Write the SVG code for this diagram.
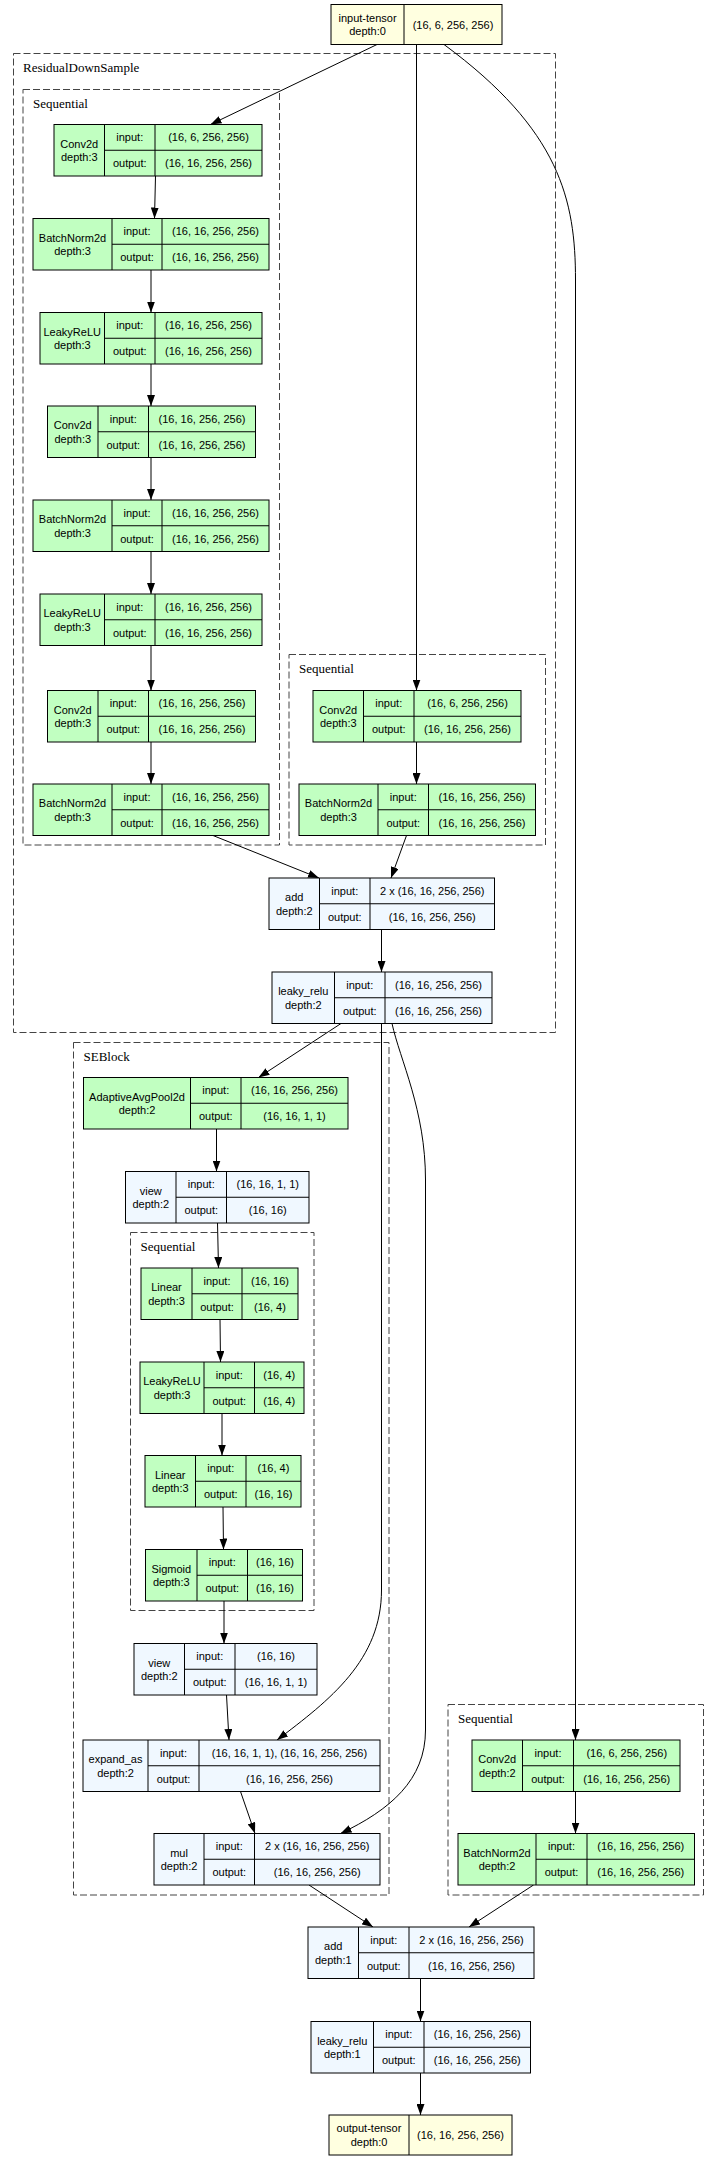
<svg xmlns="http://www.w3.org/2000/svg" width="717" height="2160" viewBox="0 0 717 2160">
<style>
.nd rect{stroke:#000;stroke-width:1}
.nd path{stroke:#000;stroke-width:1;fill:none}
.g rect{fill:#c1ffc1}
.b rect{fill:#f0f8ff}
.y rect{fill:#ffffe0}
.nd text{font-family:"Liberation Sans",Arial,sans-serif;font-size:11px;text-anchor:middle;fill:#000}
.cl rect{fill:none;stroke:#444;stroke-width:1;stroke-dasharray:7,3}
.cl text{font-family:"Liberation Serif","Times New Roman",serif;font-size:13px;fill:#000}
.ed path{fill:none;stroke:#000;stroke-width:1}
</style>
<defs>
<marker id="ah" markerWidth="11" markerHeight="8" refX="11" refY="4" orient="auto" markerUnits="userSpaceOnUse"><path d="M0,0 L11,4 L0,8 z" fill="#000"/></marker>
</defs>
<rect width="717" height="2160" fill="#fff"/>

<g id="clusters">
<g class="cl" id="c_rds"><rect x="13.5" y="53.5" width="542" height="979"/><text x="23" y="72">ResidualDownSample</text></g>
<g class="cl" id="c_seqL"><rect x="23" y="89.5" width="256.5" height="755.5"/><text x="33" y="108">Sequential</text></g>
<g class="cl" id="c_seqR"><rect x="289" y="654.5" width="256.5" height="190.5"/><text x="299" y="673">Sequential</text></g>
<g class="cl" id="c_se"><rect x="73.5" y="1042.5" width="315.5" height="852.5"/><text x="83.5" y="1061">SEBlock</text></g>
<g class="cl" id="c_seqSE"><rect x="130.5" y="1232.5" width="183.5" height="378"/><text x="140.5" y="1251">Sequential</text></g>
<g class="cl" id="c_seqBR"><rect x="448" y="1704.5" width="255.5" height="190.5"/><text x="458" y="1723">Sequential</text></g>
</g>

<g class="ed" id="edges">
<path d="M377,44.5 L210.5,124.5" marker-end="url(#ah)"/>
<path d="M416.5,44.5 V690.5" marker-end="url(#ah)"/>
<path d="M444,44.5 C560,130 575.5,200 575.5,280 V1740" marker-end="url(#ah)"/>
<path d="M155.5,176 L154.5,218.5" marker-end="url(#ah)"/>
<path d="M151,270 V312.5" marker-end="url(#ah)"/>
<path d="M151,364 V406" marker-end="url(#ah)"/>
<path d="M151,457.5 V500" marker-end="url(#ah)"/>
<path d="M151,551.5 V594" marker-end="url(#ah)"/>
<path d="M151,645.5 V690.5" marker-end="url(#ah)"/>
<path d="M151,742 V784" marker-end="url(#ah)"/>
<path d="M416.5,742 V784" marker-end="url(#ah)"/>
<path d="M213,835.5 L319,878" marker-end="url(#ah)"/>
<path d="M406.5,835.5 L391,878" marker-end="url(#ah)"/>
<path d="M381.5,929.5 V972" marker-end="url(#ah)"/>
<path d="M341,1023.5 L258.5,1077.5" marker-end="url(#ah)"/>
<path d="M381.5,1023.5 V1590 C381.5,1660 330,1700 277,1740" marker-end="url(#ah)"/>
<path d="M392,1023.5 C400,1060 425.5,1110 425.5,1180 V1730 C425.5,1780 390,1810 340.5,1833.5" marker-end="url(#ah)"/>
<path d="M216.5,1129 V1171.5" marker-end="url(#ah)"/>
<path d="M217.5,1223 L218.5,1268" marker-end="url(#ah)"/>
<path d="M220,1319.5 L220.5,1362" marker-end="url(#ah)"/>
<path d="M222,1413.5 V1455.5" marker-end="url(#ah)"/>
<path d="M223,1507 L223.5,1549.5" marker-end="url(#ah)"/>
<path d="M224,1601 V1643.5" marker-end="url(#ah)"/>
<path d="M226.5,1695 L229,1740" marker-end="url(#ah)"/>
<path d="M240.5,1791.5 L255,1833.5" marker-end="url(#ah)"/>
<path d="M575.5,1791.5 V1833.5" marker-end="url(#ah)"/>
<path d="M309,1885 L373,1927" marker-end="url(#ah)"/>
<path d="M533.5,1885 L469,1927" marker-end="url(#ah)"/>
<path d="M420.5,1978.5 V2021.5" marker-end="url(#ah)"/>
<path d="M420.5,2073 V2115" marker-end="url(#ah)"/>
</g>

<g id="n_input" class="nd y"><rect x="331" y="4.5" width="171" height="40"/><path d="M404,4.5 V44.5"/><text x="367.5" y="21.5">input-tensor</text><text x="367.5" y="35">depth:0</text><text x="453" y="28.5">(16, 6, 256, 256)</text></g>

<g id="n_conv1" class="nd g"><rect x="54" y="124.5" width="208" height="51.5"/><path d="M104.5,124.5 V176 M155,124.5 V176 M104.5,150.25 H262"/><text x="79.25" y="147.8">Conv2d</text><text x="79.25" y="161.3">depth:3</text><text x="129.75" y="141.4">input:</text><text x="129.75" y="167.1">output:</text><text x="208.5" y="141.4">(16, 6, 256, 256)</text><text x="208.5" y="167.1">(16, 16, 256, 256)</text></g>

<g id="n_bn1" class="nd g"><rect x="33" y="218.5" width="236" height="51.5"/><path d="M112,218.5 V270 M162,218.5 V270 M112,244.25 H269"/><text x="72.5" y="241.8">BatchNorm2d</text><text x="72.5" y="255.3">depth:3</text><text x="137" y="235.4">input:</text><text x="137" y="261.1">output:</text><text x="215.5" y="235.4">(16, 16, 256, 256)</text><text x="215.5" y="261.1">(16, 16, 256, 256)</text></g>

<g id="n_lrelu1" class="nd g"><rect x="40" y="312.5" width="222" height="51.5"/><path d="M104.5,312.5 V364 M155,312.5 V364 M104.5,338.25 H262"/><text x="72.25" y="335.8">LeakyReLU</text><text x="72.25" y="349.3">depth:3</text><text x="129.75" y="329.4">input:</text><text x="129.75" y="355.1">output:</text><text x="208.5" y="329.4">(16, 16, 256, 256)</text><text x="208.5" y="355.1">(16, 16, 256, 256)</text></g>

<g id="n_conv2" class="nd g"><rect x="47.5" y="406" width="208" height="51.5"/><path d="M98,406 V457.5 M148.5,406 V457.5 M98,431.75 H255.5"/><text x="72.75" y="429.3">Conv2d</text><text x="72.75" y="442.8">depth:3</text><text x="123.25" y="422.9">input:</text><text x="123.25" y="448.6">output:</text><text x="202" y="422.9">(16, 16, 256, 256)</text><text x="202" y="448.6">(16, 16, 256, 256)</text></g>

<g id="n_bn2" class="nd g"><rect x="33" y="500" width="236" height="51.5"/><path d="M112,500 V551.5 M162,500 V551.5 M112,525.75 H269"/><text x="72.5" y="523.3">BatchNorm2d</text><text x="72.5" y="536.8">depth:3</text><text x="137" y="516.9">input:</text><text x="137" y="542.6">output:</text><text x="215.5" y="516.9">(16, 16, 256, 256)</text><text x="215.5" y="542.6">(16, 16, 256, 256)</text></g>

<g id="n_lrelu2" class="nd g"><rect x="40" y="594" width="222" height="51.5"/><path d="M104.5,594 V645.5 M155,594 V645.5 M104.5,619.75 H262"/><text x="72.25" y="617.3">LeakyReLU</text><text x="72.25" y="630.8">depth:3</text><text x="129.75" y="610.9">input:</text><text x="129.75" y="636.6">output:</text><text x="208.5" y="610.9">(16, 16, 256, 256)</text><text x="208.5" y="636.6">(16, 16, 256, 256)</text></g>

<g id="n_conv3" class="nd g"><rect x="47.5" y="690.5" width="208" height="51.5"/><path d="M98,690.5 V742 M148.5,690.5 V742 M98,716.25 H255.5"/><text x="72.75" y="713.8">Conv2d</text><text x="72.75" y="727.3">depth:3</text><text x="123.25" y="707.4">input:</text><text x="123.25" y="733.1">output:</text><text x="202" y="707.4">(16, 16, 256, 256)</text><text x="202" y="733.1">(16, 16, 256, 256)</text></g>

<g id="n_bn3" class="nd g"><rect x="33" y="784" width="236" height="51.5"/><path d="M112,784 V835.5 M162,784 V835.5 M112,809.75 H269"/><text x="72.5" y="807.3">BatchNorm2d</text><text x="72.5" y="820.8">depth:3</text><text x="137" y="800.9">input:</text><text x="137" y="826.6">output:</text><text x="215.5" y="800.9">(16, 16, 256, 256)</text><text x="215.5" y="826.6">(16, 16, 256, 256)</text></g>

<g id="n_convR" class="nd g"><rect x="313" y="690.5" width="208" height="51.5"/><path d="M363.5,690.5 V742 M414,690.5 V742 M363.5,716.25 H521"/><text x="338.25" y="713.8">Conv2d</text><text x="338.25" y="727.3">depth:3</text><text x="388.75" y="707.4">input:</text><text x="388.75" y="733.1">output:</text><text x="467.5" y="707.4">(16, 6, 256, 256)</text><text x="467.5" y="733.1">(16, 16, 256, 256)</text></g>

<g id="n_bnR" class="nd g"><rect x="299" y="784" width="236.5" height="51.5"/><path d="M378,784 V835.5 M428.5,784 V835.5 M378,809.75 H535.5"/><text x="338.5" y="807.3">BatchNorm2d</text><text x="338.5" y="820.8">depth:3</text><text x="403.25" y="800.9">input:</text><text x="403.25" y="826.6">output:</text><text x="482" y="800.9">(16, 16, 256, 256)</text><text x="482" y="826.6">(16, 16, 256, 256)</text></g>

<g id="n_add2" class="nd b"><rect x="269" y="878" width="225.5" height="51.5"/><path d="M319.5,878 V929.5 M370,878 V929.5 M319.5,903.75 H494.5"/><text x="294.25" y="901.3">add</text><text x="294.25" y="914.8">depth:2</text><text x="344.75" y="894.9">input:</text><text x="344.75" y="920.6">output:</text><text x="432.25" y="894.9">2 x (16, 16, 256, 256)</text><text x="432.25" y="920.6">(16, 16, 256, 256)</text></g>

<g id="n_leaky2" class="nd b"><rect x="272" y="972" width="220" height="51.5"/><path d="M334.5,972 V1023.5 M385,972 V1023.5 M334.5,997.75 H492"/><text x="303.25" y="995.3">leaky_relu</text><text x="303.25" y="1008.8">depth:2</text><text x="359.75" y="988.9">input:</text><text x="359.75" y="1014.6">output:</text><text x="438.5" y="988.9">(16, 16, 256, 256)</text><text x="438.5" y="1014.6">(16, 16, 256, 256)</text></g>

<g id="n_pool" class="nd g"><rect x="83.5" y="1077.5" width="264.5" height="51.5"/><path d="M190.5,1077.5 V1129 M241,1077.5 V1129 M190.5,1103.25 H348"/><text x="137" y="1100.8">AdaptiveAvgPool2d</text><text x="137" y="1114.3">depth:2</text><text x="215.75" y="1094.4">input:</text><text x="215.75" y="1120.1">output:</text><text x="294.5" y="1094.4">(16, 16, 256, 256)</text><text x="294.5" y="1120.1">(16, 16, 1, 1)</text></g>

<g id="n_view1" class="nd b"><rect x="125.5" y="1171.5" width="183.5" height="51.5"/><path d="M176,1171.5 V1223 M226.5,1171.5 V1223 M176,1197.25 H309"/><text x="150.75" y="1194.8">view</text><text x="150.75" y="1208.3">depth:2</text><text x="201.25" y="1188.4">input:</text><text x="201.25" y="1214.1">output:</text><text x="267.75" y="1188.4">(16, 16, 1, 1)</text><text x="267.75" y="1214.1">(16, 16)</text></g>

<g id="n_lin1" class="nd g"><rect x="141" y="1268" width="157" height="51.5"/><path d="M192,1268 V1319.5 M242,1268 V1319.5 M192,1293.75 H298"/><text x="166.5" y="1291.3">Linear</text><text x="166.5" y="1304.8">depth:3</text><text x="217" y="1284.9">input:</text><text x="217" y="1310.6">output:</text><text x="270" y="1284.9">(16, 16)</text><text x="270" y="1310.6">(16, 4)</text></g>

<g id="n_lrelu3" class="nd g"><rect x="140" y="1362" width="164" height="51.5"/><path d="M204,1362 V1413.5 M254.5,1362 V1413.5 M204,1387.75 H304"/><text x="172" y="1385.3">LeakyReLU</text><text x="172" y="1398.8">depth:3</text><text x="229.25" y="1378.9">input:</text><text x="229.25" y="1404.6">output:</text><text x="279.25" y="1378.9">(16, 4)</text><text x="279.25" y="1404.6">(16, 4)</text></g>

<g id="n_lin2" class="nd g"><rect x="145" y="1455.5" width="156" height="51.5"/><path d="M195.5,1455.5 V1507 M246,1455.5 V1507 M195.5,1481.25 H301"/><text x="170.25" y="1478.8">Linear</text><text x="170.25" y="1492.3">depth:3</text><text x="220.75" y="1472.4">input:</text><text x="220.75" y="1498.1">output:</text><text x="273.5" y="1472.4">(16, 4)</text><text x="273.5" y="1498.1">(16, 16)</text></g>

<g id="n_sig" class="nd g"><rect x="145.5" y="1549.5" width="157" height="51.5"/><path d="M197,1549.5 V1601 M247.5,1549.5 V1601 M197,1575.25 H302.5"/><text x="171.25" y="1572.8">Sigmoid</text><text x="171.25" y="1586.3">depth:3</text><text x="222.25" y="1566.4">input:</text><text x="222.25" y="1592.1">output:</text><text x="275" y="1566.4">(16, 16)</text><text x="275" y="1592.1">(16, 16)</text></g>

<g id="n_view2" class="nd b"><rect x="134" y="1643.5" width="183" height="51.5"/><path d="M184.5,1643.5 V1695 M235,1643.5 V1695 M184.5,1669.25 H317"/><text x="159.25" y="1666.8">view</text><text x="159.25" y="1680.3">depth:2</text><text x="209.75" y="1660.4">input:</text><text x="209.75" y="1686.1">output:</text><text x="276" y="1660.4">(16, 16)</text><text x="276" y="1686.1">(16, 16, 1, 1)</text></g>

<g id="n_expand" class="nd b"><rect x="83" y="1740" width="297" height="51.5"/><path d="M148,1740 V1791.5 M199,1740 V1791.5 M148,1765.75 H380"/><text x="115.5" y="1763.3">expand_as</text><text x="115.5" y="1776.8">depth:2</text><text x="173.5" y="1756.9">input:</text><text x="173.5" y="1782.6">output:</text><text x="289.5" y="1756.9">(16, 16, 1, 1), (16, 16, 256, 256)</text><text x="289.5" y="1782.6">(16, 16, 256, 256)</text></g>

<g id="n_mul" class="nd b"><rect x="154" y="1833.5" width="226" height="51.5"/><path d="M204,1833.5 V1885 M254.5,1833.5 V1885 M204,1859.25 H380"/><text x="179" y="1856.8">mul</text><text x="179" y="1870.3">depth:2</text><text x="229.25" y="1850.4">input:</text><text x="229.25" y="1876.1">output:</text><text x="317.25" y="1850.4">2 x (16, 16, 256, 256)</text><text x="317.25" y="1876.1">(16, 16, 256, 256)</text></g>

<g id="n_conv4" class="nd g"><rect x="472" y="1740" width="208" height="51.5"/><path d="M522.5,1740 V1791.5 M573.5,1740 V1791.5 M522.5,1765.75 H680"/><text x="497.25" y="1763.3">Conv2d</text><text x="497.25" y="1776.8">depth:2</text><text x="548" y="1756.9">input:</text><text x="548" y="1782.6">output:</text><text x="626.75" y="1756.9">(16, 6, 256, 256)</text><text x="626.75" y="1782.6">(16, 16, 256, 256)</text></g>

<g id="n_bn4" class="nd g"><rect x="458" y="1833.5" width="236.5" height="51.5"/><path d="M536,1833.5 V1885 M587,1833.5 V1885 M536,1859.25 H694.5"/><text x="497" y="1856.8">BatchNorm2d</text><text x="497" y="1870.3">depth:2</text><text x="561.5" y="1850.4">input:</text><text x="561.5" y="1876.1">output:</text><text x="640.75" y="1850.4">(16, 16, 256, 256)</text><text x="640.75" y="1876.1">(16, 16, 256, 256)</text></g>

<g id="n_add1" class="nd b"><rect x="308" y="1927" width="226" height="51.5"/><path d="M358.5,1927 V1978.5 M409,1927 V1978.5 M358.5,1952.75 H534"/><text x="333.25" y="1950.3">add</text><text x="333.25" y="1963.8">depth:1</text><text x="383.75" y="1943.9">input:</text><text x="383.75" y="1969.6">output:</text><text x="471.5" y="1943.9">2 x (16, 16, 256, 256)</text><text x="471.5" y="1969.6">(16, 16, 256, 256)</text></g>

<g id="n_leaky1" class="nd b"><rect x="311" y="2021.5" width="219.5" height="51.5"/><path d="M373.5,2021.5 V2073 M424,2021.5 V2073 M373.5,2047.25 H530.5"/><text x="342.25" y="2044.8">leaky_relu</text><text x="342.25" y="2058.3">depth:1</text><text x="398.75" y="2038.4">input:</text><text x="398.75" y="2064.1">output:</text><text x="477.25" y="2038.4">(16, 16, 256, 256)</text><text x="477.25" y="2064.1">(16, 16, 256, 256)</text></g>

<g id="n_output" class="nd y"><rect x="329" y="2115" width="183" height="40"/><path d="M409,2115 V2155"/><text x="369" y="2132">output-tensor</text><text x="369" y="2145.5">depth:0</text><text x="460.5" y="2139">(16, 16, 256, 256)</text></g>
</svg>
